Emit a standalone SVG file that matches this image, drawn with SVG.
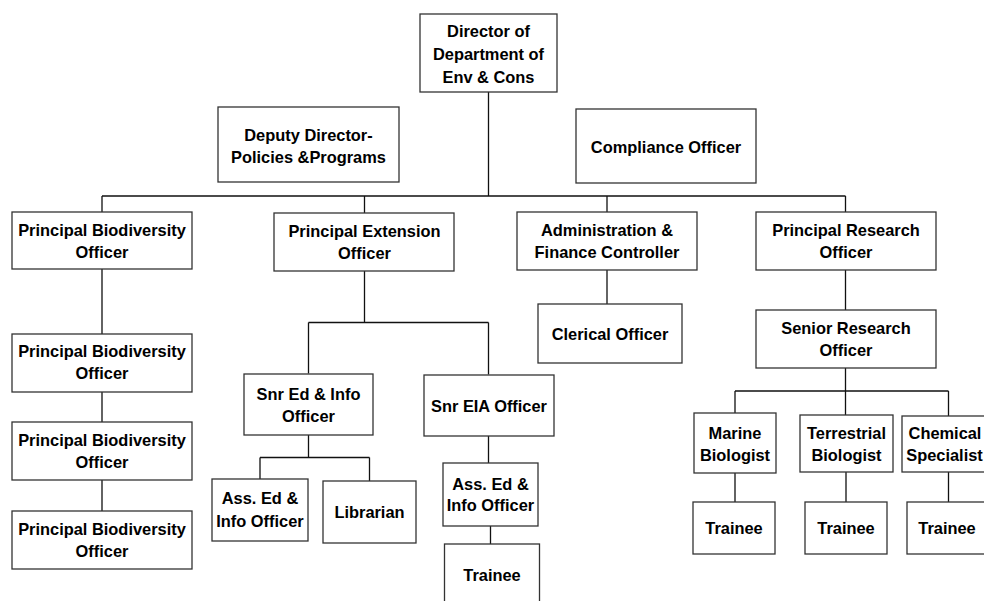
<svg xmlns="http://www.w3.org/2000/svg" width="984" height="601" viewBox="0 0 984 601">
<style>
.box{fill:#fff;stroke:#333;stroke-width:1.3}
.t{font-family:"Liberation Sans",Arial,sans-serif;font-weight:bold;font-size:16.4px;fill:#000;text-anchor:middle}
.c{fill:none;stroke:#111;stroke-width:1.3}
</style>
<rect width="984" height="601" fill="#fff"/>
<g id="connectors">
<path class="c" d="M488.5 92V196M102 196H845.5M102 196V212M364.5 196V213M607 196V212M845.5 196V212"/>
<path class="c" d="M102 269V334M102 392V422M102 480V511"/>
<path class="c" d="M364.5 271V322.5M308.5 322.5H488.5M308.5 322.5V373.5M488.5 322.5V374.5"/>
<path class="c" d="M308.5 435V457.5M260 457.5H369.5M260 457.5V479M369.5 457.5V481"/>
<path class="c" d="M488.5 436V463M490.5 526V544"/>
<path class="c" d="M607 270V304"/>
<path class="c" d="M845.5 270V310M845.5 368V391M735 391H948.5M735 391V413M845.5 391V415M948.5 391V416"/>
<path class="c" d="M735 473V502M846 472V502M948.5 472V502"/>
</g>
<g id="director"><rect class="box" x="420" y="14" width="137" height="78"/><text class="t" x="488.5" y="37">Director of</text><text class="t" x="488.5" y="60">Department of</text><text class="t" x="488.5" y="83">Env &amp; Cons</text></g>
<g id="deputy"><rect class="box" x="218" y="107" width="181" height="75"/><text class="t" x="308.5" y="141">Deputy Director-</text><text class="t" x="308.5" y="163">Policies &amp;Programs</text></g>
<g id="compliance"><rect class="box" x="576" y="109" width="180" height="74"/><text class="t" x="666" y="153">Compliance Officer</text></g>
<g id="pbo1"><rect class="box" x="12" y="212" width="180" height="57"/><text class="t" x="102" y="236">Principal Biodiversity</text><text class="t" x="102" y="258">Officer</text></g>
<g id="extension"><rect class="box" x="274" y="213" width="180" height="58"/><text class="t" x="364.5" y="237">Principal Extension</text><text class="t" x="364.5" y="259">Officer</text></g>
<g id="admin"><rect class="box" x="517" y="212" width="180" height="58"/><text class="t" x="607" y="236">Administration &amp;</text><text class="t" x="607" y="258">Finance Controller</text></g>
<g id="research"><rect class="box" x="756" y="212" width="180" height="58"/><text class="t" x="846" y="236">Principal Research</text><text class="t" x="846" y="258">Officer</text></g>
<g id="clerical"><rect class="box" x="538" y="304" width="144" height="59"/><text class="t" x="610" y="340">Clerical Officer</text></g>
<g id="senior-research"><rect class="box" x="756" y="310" width="180" height="58"/><text class="t" x="846" y="334">Senior Research</text><text class="t" x="846" y="356">Officer</text></g>
<g id="pbo2"><rect class="box" x="12" y="334" width="180" height="58"/><text class="t" x="102" y="357">Principal Biodiversity</text><text class="t" x="102" y="379">Officer</text></g>
<g id="pbo3"><rect class="box" x="12" y="422" width="180" height="58"/><text class="t" x="102" y="446">Principal Biodiversity</text><text class="t" x="102" y="468">Officer</text></g>
<g id="pbo4"><rect class="box" x="12" y="511" width="180" height="58"/><text class="t" x="102" y="535">Principal Biodiversity</text><text class="t" x="102" y="557">Officer</text></g>
<g id="snr-ed"><rect class="box" x="244" y="374" width="129" height="61"/><text class="t" x="308.5" y="400">Snr Ed &amp; Info</text><text class="t" x="308.5" y="422">Officer</text></g>
<g id="snr-eia"><rect class="box" x="424" y="375" width="130" height="61"/><text class="t" x="489" y="412">Snr EIA Officer</text></g>
<g id="ass-ed1"><rect class="box" x="212" y="479" width="96" height="62"/><text class="t" x="260" y="504">Ass. Ed &amp;</text><text class="t" x="260" y="527">Info Officer</text></g>
<g id="librarian"><rect class="box" x="323" y="481" width="93" height="62"/><text class="t" x="369.5" y="518">Librarian</text></g>
<g id="ass-ed2"><rect class="box" x="443" y="463" width="95" height="63"/><text class="t" x="490.5" y="490">Ass. Ed &amp;</text><text class="t" x="490.5" y="511">Info Officer</text></g>
<g id="trainee-eia"><rect class="box" x="444.5" y="544" width="95" height="64"/><text class="t" x="492" y="581">Trainee</text></g>
<g id="marine"><rect class="box" x="694" y="413" width="82" height="60"/><text class="t" x="735" y="439">Marine</text><text class="t" x="735" y="461">Biologist</text></g>
<g id="terrestrial"><rect class="box" x="800" y="415" width="93" height="57"/><text class="t" x="846.5" y="439">Terrestrial</text><text class="t" x="846.5" y="461">Biologist</text></g>
<g id="chemical"><rect class="box" x="902" y="416" width="93" height="56"/><text class="t" x="945" y="439">Chemical</text><text class="t" x="944.5" y="461">Specialist</text></g>
<g id="trainee-marine"><rect class="box" x="693" y="502" width="82" height="52"/><text class="t" x="734" y="534">Trainee</text></g>
<g id="trainee-terr"><rect class="box" x="805" y="502" width="82" height="52"/><text class="t" x="846" y="534">Trainee</text></g>
<g id="trainee-chem"><rect class="box" x="907" y="502" width="82" height="52"/><text class="t" x="947" y="534">Trainee</text></g>
</svg>
